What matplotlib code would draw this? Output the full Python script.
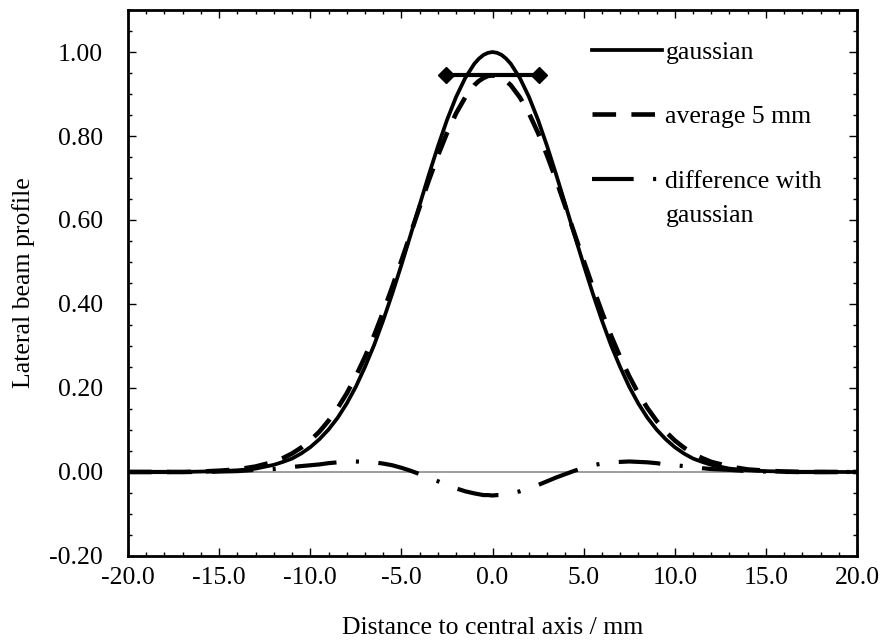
import matplotlib
matplotlib.use('Agg')
import matplotlib.pyplot as plt
from matplotlib.ticker import MultipleLocator, FormatStrFormatter

plt.rcParams['font.family'] = ['Liberation Serif', 'DejaVu Serif']
plt.rcParams['axes.unicode_minus'] = False
plt.rcParams['lines.scale_dashes'] = False

FS = 18.5

# distance to central axis (mm)
dist = [-20, -19, -18, -17, -16, -15, -14, -13, -12, -11.5, -11, -10.5, -10, -9.5, -9, -8.5, -8,
        -7.5, -7, -6.5, -6, -5.5, -5, -4.5, -4, -3.5, -3, -2.5, -2, -1.5, -1, -0.75, -0.5, -0.25, 0,
        0.25, 0.5, 0.75, 1, 1.5, 2, 2.5, 3, 3.5, 4, 4.5, 5, 5.5, 6, 6.5, 7, 7.5, 8,
        8.5, 9, 9.5, 10, 10.5, 11, 11.5, 12, 13, 14, 15, 16, 17, 18, 19, 20]

gaussian = [0, 0, 0, 0, 0.001, 0.002, 0.004, 0.008, 0.017, 0.024, 0.032, 0.044, 0.059, 0.078, 0.101, 0.129, 0.163,
            0.203, 0.250, 0.302, 0.361, 0.425, 0.493, 0.564, 0.636, 0.707, 0.775, 0.838, 0.893, 0.938, 0.972, 0.984, 0.993, 0.998, 1.000,
            0.998, 0.993, 0.984, 0.972, 0.938, 0.893, 0.838, 0.775, 0.707, 0.636, 0.564, 0.493, 0.425, 0.361, 0.302, 0.250, 0.203, 0.163,
            0.129, 0.101, 0.078, 0.059, 0.044, 0.032, 0.024, 0.017, 0.008, 0.004, 0.002, 0.001, 0, 0, 0, 0]

average_5mm = [0, 0, 0, 0, 0.001, 0.003, 0.006, 0.013, 0.024, 0.033, 0.044, 0.058, 0.075, 0.096, 0.122, 0.152, 0.187,
               0.228, 0.274, 0.325, 0.381, 0.441, 0.503, 0.567, 0.631, 0.694, 0.753, 0.807, 0.854, 0.892, 0.921, 0.931, 0.938, 0.943, 0.944,
               0.943, 0.938, 0.931, 0.921, 0.892, 0.854, 0.807, 0.753, 0.694, 0.631, 0.567, 0.503, 0.441, 0.381, 0.325, 0.274, 0.228, 0.187,
               0.152, 0.122, 0.096, 0.075, 0.058, 0.044, 0.033, 0.024, 0.013, 0.006, 0.003, 0.001, 0, 0, 0, 0]

difference = [0, 0, 0, 0, 0.000, 0.001, 0.002, 0.005, 0.007, 0.009, 0.012, 0.014, 0.016, 0.018, 0.021, 0.023, 0.024,
              0.025, 0.024, 0.023, 0.020, 0.016, 0.010, 0.003, -0.005, -0.013, -0.022, -0.031, -0.039, -0.046, -0.051, -0.053, -0.055, -0.055, -0.056,
              -0.055, -0.055, -0.053, -0.051, -0.046, -0.039, -0.031, -0.022, -0.013, -0.005, 0.003, 0.010, 0.016, 0.020, 0.023, 0.024, 0.025, 0.024,
              0.023, 0.021, 0.018, 0.016, 0.014, 0.012, 0.009, 0.007, 0.005, 0.002, 0.001, 0.000, 0, 0, 0, 0]

# 5 mm marker at the top of the profile
window_x = [-2.55, 2.55]
window_y = [0.945, 0.945]

fig = plt.figure(figsize=(8.83, 6.42), dpi=100)
ax = fig.add_axes([0.145, 0.134, 0.8256, 0.8504])

ax.axhline(0, color='#8c8c8c', lw=1.2, zorder=1)
ax.plot(dist, gaussian, color='black', lw=2.7, label='gaussian', zorder=3)
ax.plot(dist, average_5mm, color='black', lw=3.3, dashes=(17, 11), label='average 5 mm', zorder=2)
ax.plot(dist, difference, color='black', lw=3.0, dashes=(30, 14, 2.2, 14),
        label='difference with', zorder=2)
ax.plot(window_x, window_y, color='black', lw=3, marker='D', markersize=8, zorder=4)

ax.set_xlim(-20, 20)
ax.set_ylim(-0.2, 1.1)
ax.xaxis.set_major_locator(MultipleLocator(5))
ax.xaxis.set_minor_locator(MultipleLocator(1))
ax.yaxis.set_minor_locator(MultipleLocator(0.05))
ax.xaxis.set_major_formatter(FormatStrFormatter('%.1f'))
ax.yaxis.set_major_formatter(FormatStrFormatter('%.2f'))
ax.set_yticks([-0.2, 0, 0.2, 0.4, 0.6, 0.8, 1.0])

ax.tick_params(which='both', direction='in', top=True, right=True, labelsize=FS, width=1)
ax.tick_params(which='major', length=6)
ax.tick_params(which='minor', length=3)
ax.tick_params(axis='y', pad=18)
ax.tick_params(axis='x', pad=8)
for s in ax.spines.values():
    s.set_linewidth(2)

ax.set_xlabel('Distance to central axis / mm', fontsize=FS, labelpad=20)
ax.set_ylabel('Lateral beam profile', fontsize=FS, labelpad=10)

leg = ax.legend(loc='upper left', bbox_to_anchor=(0.605, 0.986), frameon=False, fontsize=FS,
                handlelength=2.7, handletextpad=0.15, labelspacing=1.62)
# second line of the last legend label, set closer than the entry spacing
ax.annotate('gaussian', xy=(0, 0), xycoords=leg.get_texts()[2], xytext=(0, -24.5),
            textcoords='offset points', ha='left', va='bottom', fontsize=FS, zorder=10)

fig.savefig('out.png', dpi=100)
